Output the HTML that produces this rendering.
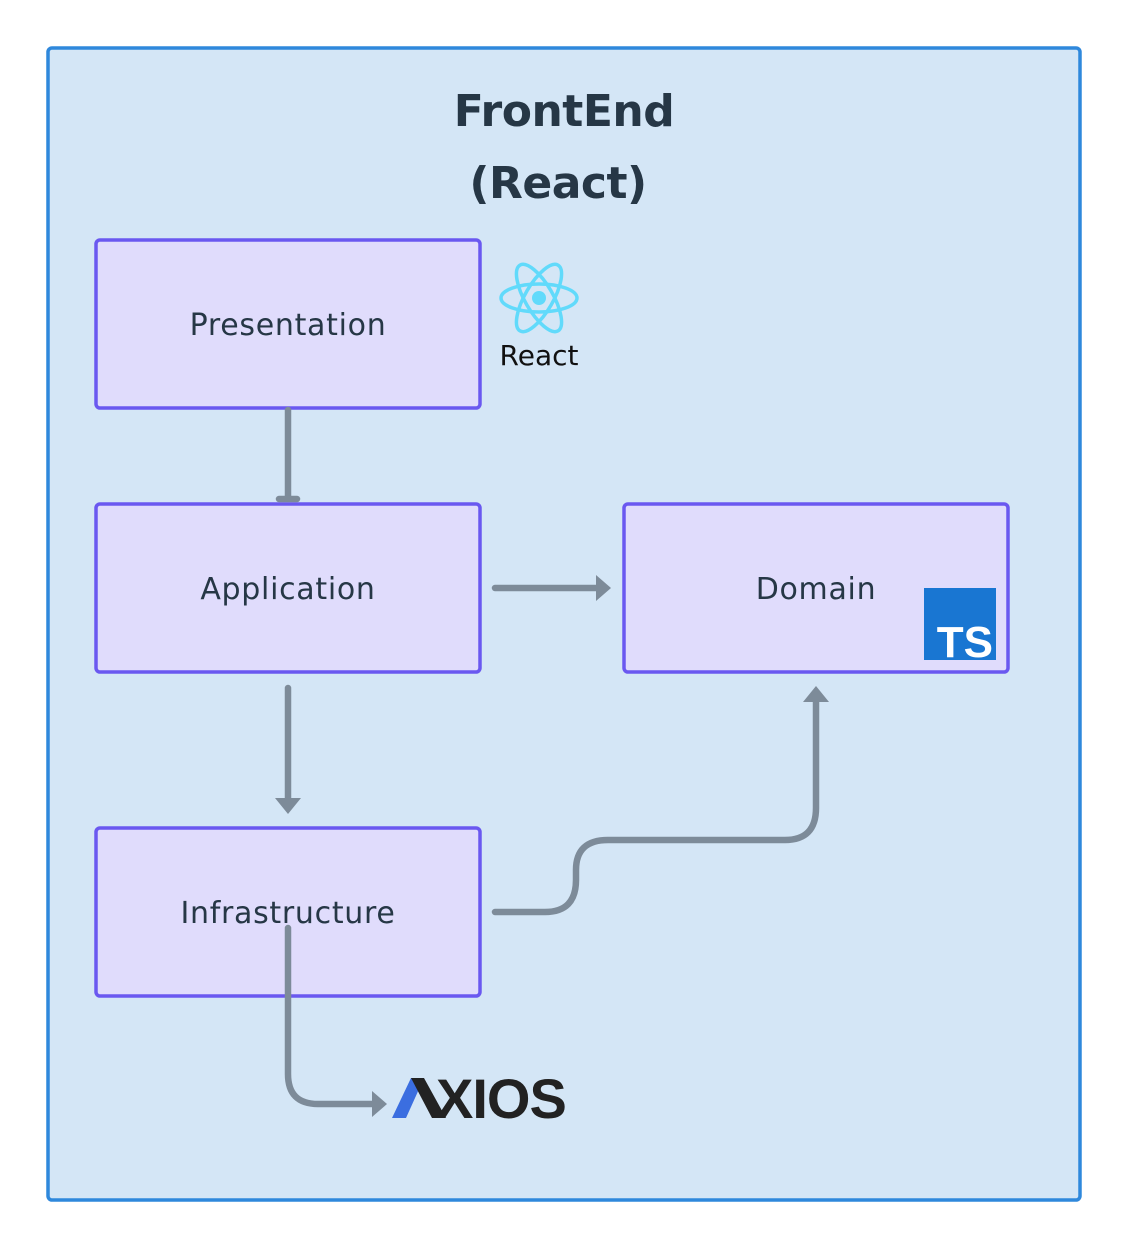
<!DOCTYPE html>
<html><head><meta charset="utf-8"><style>
html,body{margin:0;padding:0;background:#fff;}
svg{display:block;}
text{font-family:"DejaVu Sans","Liberation Sans",sans-serif;}
</style></head><body>
<svg width="1128" height="1248" viewBox="0 0 1128 1248" xmlns="http://www.w3.org/2000/svg">
<rect x="48" y="48" width="1032" height="1152" rx="4" fill="#d4e6f6" stroke="#2f88dc" stroke-width="3.5"/>
<text x="564" y="126" text-anchor="middle" font-size="44" font-weight="bold" fill="#263746" letter-spacing="-0.5">FrontEnd</text>
<text x="558" y="198" text-anchor="middle" font-size="44" font-weight="bold" fill="#263746" letter-spacing="-0.5">(React)</text>

<g fill="#e0dcfc" stroke="#6a58f0" stroke-width="3.5">
<rect x="96" y="240" width="384" height="168" rx="4"/>
<rect x="96" y="504" width="384" height="168" rx="4"/>
<rect x="624" y="504" width="384" height="168" rx="4"/>
<rect x="96" y="828" width="384" height="168" rx="4"/>
</g>
<g font-size="30" fill="#263746" text-anchor="middle" letter-spacing="0.7">
<text x="288" y="335">Presentation</text>
<text x="288" y="599">Application</text>
<text x="816" y="599">Domain</text>
<text x="288" y="923">Infrastructure</text>
</g>

<g transform="translate(539,298)" fill="none" stroke="#61dafb" stroke-width="3.5">
<ellipse rx="38" ry="14"/>
<ellipse rx="38" ry="14" transform="rotate(60)"/>
<ellipse rx="38" ry="14" transform="rotate(120)"/>
<circle r="7" fill="#61dafb" stroke="none"/>
</g>
<text x="539" y="365" text-anchor="middle" font-size="28" fill="#111">React</text>

<rect x="924" y="588" width="72" height="72" fill="#1976d2"/>
<text x="993" y="657" text-anchor="end" font-size="44" font-weight="bold" fill="#fff" style="font-family:'Liberation Sans',sans-serif">TS</text>

<g fill="none" stroke="#7d8b99" stroke-width="6.5" stroke-linecap="round" stroke-linejoin="round">
<path d="M288 410 V498"/>
<path d="M279 499 H297"/>
<path d="M495 588 H600"/>
<path d="M288 688 V802"/>
<path d="M495 912 H545 Q576 912 576 880 V870 Q576 840 608 840 H785 Q816 840 816 808 V700"/>
<path d="M288 928 V1074 Q288 1104 318 1104 H376"/>
</g>
<g fill="#7d8b99">
<polygon points="596,575 611,588 596,601"/>
<polygon points="275,798 301,798 288,814"/>
<polygon points="803,702 829,702 816,686"/>
<polygon points="372,1091 387,1104 372,1117"/>
</g>

<polygon points="392,1118 406,1118 424,1078 411,1078" fill="#3b6ee0"/>
<polygon points="411,1078 424,1078 446,1118 432,1118" fill="#222"/>
<text x="436" y="1118" font-size="56" font-weight="bold" fill="#222" letter-spacing="-1" style="font-family:'Liberation Sans',sans-serif">XIOS</text>
</svg>
</body></html>
